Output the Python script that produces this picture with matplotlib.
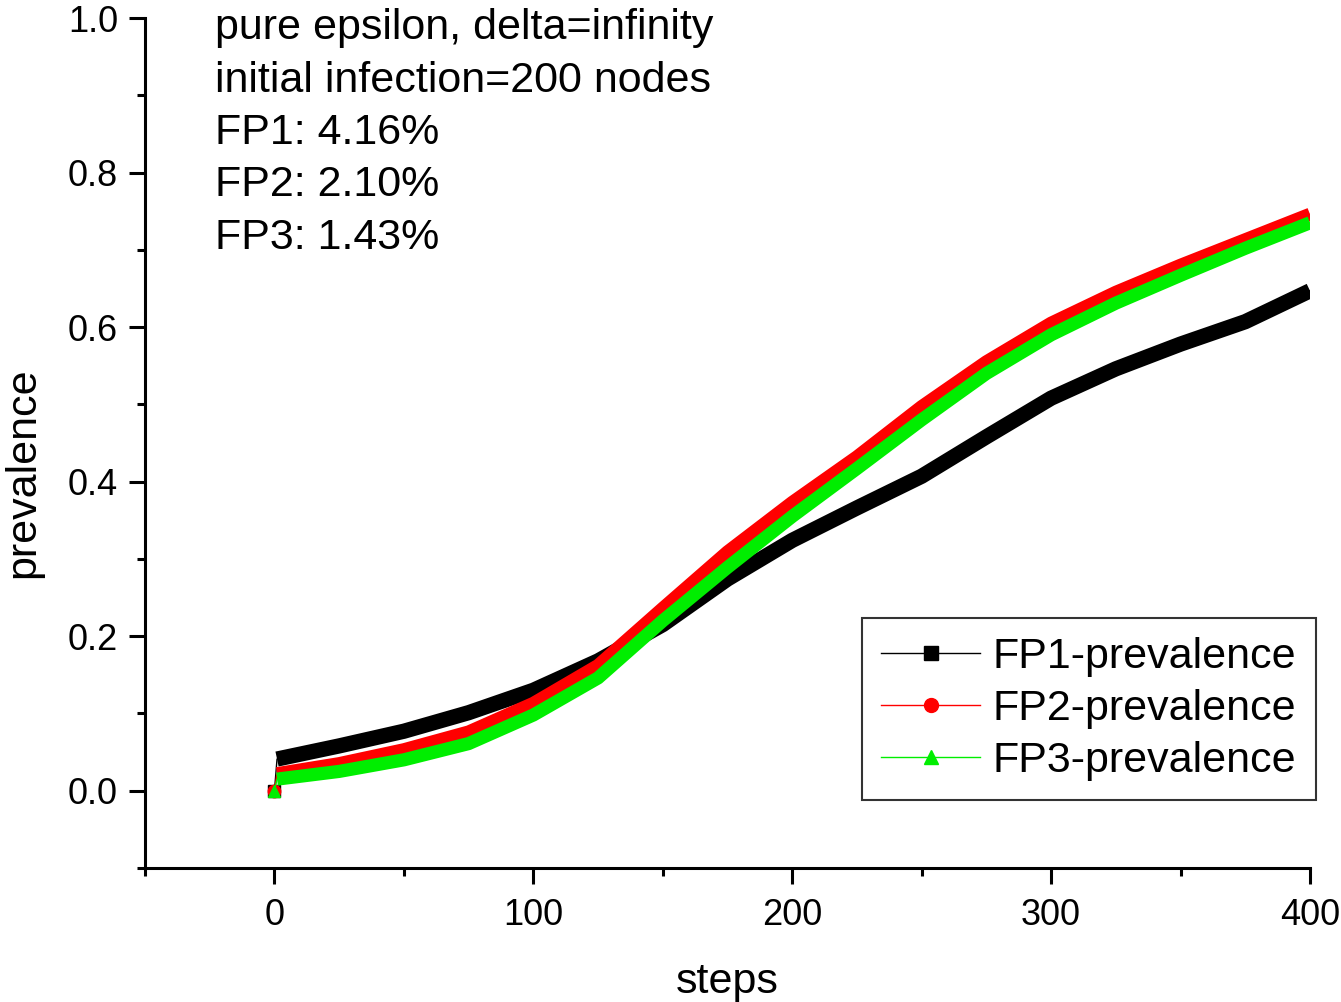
import numpy as np
import matplotlib
matplotlib.use('Agg')
import matplotlib.pyplot as plt
from matplotlib.ticker import MultipleLocator

plt.rcParams['font.family'] = ['Liberation Sans', 'DejaVu Sans']

# values
steps = [0, 1, 25, 50, 75, 100, 125, 150, 175, 200, 225, 250, 275, 300, 325, 350, 375, 400]
fp1 = [0.0, 0.041, 0.058, 0.077, 0.101, 0.130, 0.168, 0.215, 0.274, 0.324, 0.366, 0.407,
       0.458, 0.508, 0.546, 0.578, 0.607, 0.647]
fp2 = [0.0, 0.022, 0.035, 0.053, 0.076, 0.113, 0.162, 0.236, 0.309, 0.373, 0.432, 0.497,
       0.555, 0.605, 0.645, 0.680, 0.713, 0.746]
fp3 = [0.0, 0.015, 0.025, 0.040, 0.061, 0.098, 0.146, 0.220, 0.289, 0.355, 0.417, 0.480,
       0.540, 0.590, 0.631, 0.667, 0.702, 0.735]

series = [('FP1-prevalence', fp1, 'black', 's', 11),
          ('FP2-prevalence', fp2, 'red', 'o', 9.5),
          ('FP3-prevalence', fp3, '#00ee00', '^', 9.5)]

notes = ['pure epsilon, delta=infinity',
         'initial infection=200 nodes',
         'FP1: 4.16%',
         'FP2: 2.10%',
         'FP3: 1.43%']

fig = plt.figure(figsize=(13.41, 10.02), dpi=100)
ax = fig.add_axes([145/1341, 1 - 868/1002, (1310 - 145)/1341, (868 - 18)/1002])

for label, vals, col, mk, lw in series:
    # thin connecting line through all points (Origin style)
    ax.plot(steps, vals, color=col, linewidth=1)
    # the dense markers every step merge into a thick band
    ax.plot(steps[1:], vals[1:], color=col, linewidth=lw, solid_capstyle='butt',
            solid_joinstyle='round')
    ax.plot(steps[0], vals[0], linestyle='none', marker=mk, color=col, markersize=9)
    # proxy for the legend
    ax.plot([], [], color=col, linewidth=1, marker=mk, markersize=10, label=label)

ax.set_xlim(-50, 400)
ax.set_ylim(-0.1, 1.0)
ax.xaxis.set_minor_locator(MultipleLocator(50))
ax.yaxis.set_minor_locator(MultipleLocator(0.1))
ax.set_xticks([0, 100, 200, 300, 400])
ax.set_yticks([0.0, 0.2, 0.4, 0.6, 0.8, 1.0])
ax.set_yticklabels(['0.0', '0.2', '0.4', '0.6', '0.8', '1.0'])

for s in ['top', 'right']:
    ax.spines[s].set_visible(False)
for s in ['left', 'bottom']:
    ax.spines[s].set_linewidth(2.2)

ax.tick_params(which='major', direction='out', length=11.5, width=2.2, labelsize=26, pad=10)
ax.tick_params(which='minor', direction='out', length=6, width=2.2)
ax.tick_params(axis='y', which='major', pad=8)

ax.set_xlabel('steps', fontsize=31)
ax.xaxis.set_label_coords(0.5, -0.111)
ax.set_ylabel('prevalence', fontsize=31)
ax.yaxis.set_label_coords(-0.087, 0.465)

for i, t in enumerate(notes):
    ax.text(215/1341, 1 - (28 + 52.5*i)/1002, t, transform=fig.transFigure,
            fontsize=31, va='center', ha='left')

leg = ax.legend(loc='lower right', bbox_to_anchor=(1316/1341, 1 - 800/1002),
                bbox_transform=fig.transFigure, fontsize=31, frameon=True,
                fancybox=False, handlelength=2.3, handletextpad=0.3,
                labelspacing=0.27, borderpad=0.45, borderaxespad=0)
leg.get_frame().set_edgecolor('black')
leg.get_frame().set_linewidth(1.5)

fig.savefig('out.png', dpi=100)
